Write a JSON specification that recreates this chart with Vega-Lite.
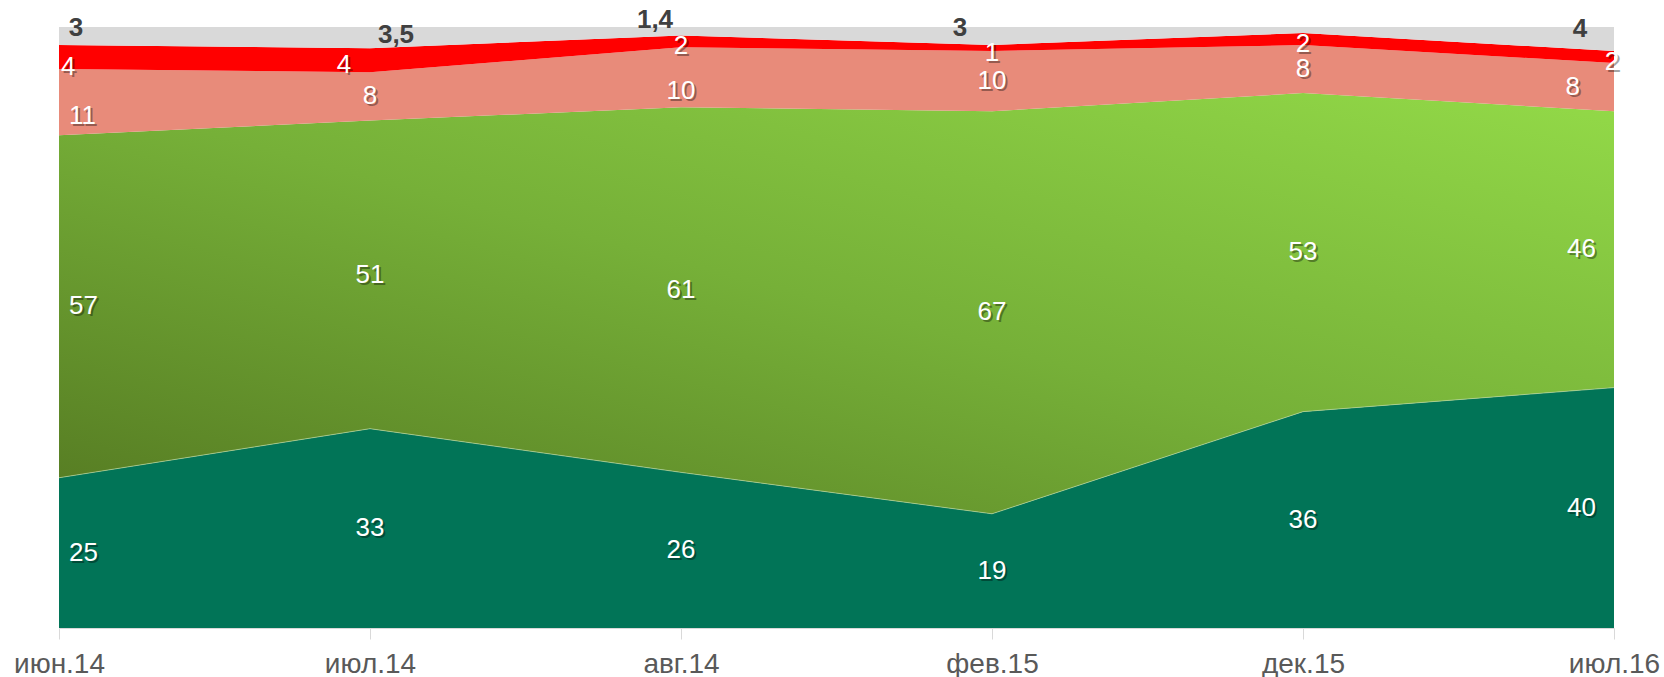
{
  "$schema": "https://vega.github.io/schema/vega-lite/v6.json",
  "width": 1555,
  "height": 601,
  "autosize": {"type": "none"},
  "padding": {"left": 59, "top": 27, "right": 50, "bottom": 49},
  "background": "white",
  "config": {"view": {"stroke": null}},
  "data": {"values": [
    {"d": "июн.14", "s": "a", "o": 1, "v": 25, "t": "25"},
    {"d": "июн.14", "s": "b", "o": 2, "v": 57, "t": "57"},
    {"d": "июн.14", "s": "c", "o": 3, "v": 11, "t": "11"},
    {"d": "июн.14", "s": "d", "o": 4, "v": 4, "t": "4"},
    {"d": "июн.14", "s": "e", "o": 5, "v": 3, "t": "3"},
    {"d": "июл.14", "s": "a", "o": 1, "v": 33, "t": "33"},
    {"d": "июл.14", "s": "b", "o": 2, "v": 51, "t": "51"},
    {"d": "июл.14", "s": "c", "o": 3, "v": 8, "t": "8"},
    {"d": "июл.14", "s": "d", "o": 4, "v": 4, "t": "4"},
    {"d": "июл.14", "s": "e", "o": 5, "v": 3.5, "t": "3,5"},
    {"d": "авг.14", "s": "a", "o": 1, "v": 26, "t": "26"},
    {"d": "авг.14", "s": "b", "o": 2, "v": 61, "t": "61"},
    {"d": "авг.14", "s": "c", "o": 3, "v": 10, "t": "10"},
    {"d": "авг.14", "s": "d", "o": 4, "v": 2, "t": "2"},
    {"d": "авг.14", "s": "e", "o": 5, "v": 1.4, "t": "1,4"},
    {"d": "фев.15", "s": "a", "o": 1, "v": 19, "t": "19"},
    {"d": "фев.15", "s": "b", "o": 2, "v": 67, "t": "67"},
    {"d": "фев.15", "s": "c", "o": 3, "v": 10, "t": "10"},
    {"d": "фев.15", "s": "d", "o": 4, "v": 1, "t": "1"},
    {"d": "фев.15", "s": "e", "o": 5, "v": 3, "t": "3"},
    {"d": "дек.15", "s": "a", "o": 1, "v": 36, "t": "36"},
    {"d": "дек.15", "s": "b", "o": 2, "v": 53, "t": "53"},
    {"d": "дек.15", "s": "c", "o": 3, "v": 8, "t": "8"},
    {"d": "дек.15", "s": "d", "o": 4, "v": 2, "t": "2"},
    {"d": "дек.15", "s": "e", "o": 5, "v": 1, "t": null},
    {"d": "июл.16", "s": "a", "o": 1, "v": 40, "t": "40"},
    {"d": "июл.16", "s": "b", "o": 2, "v": 46, "t": "46"},
    {"d": "июл.16", "s": "c", "o": 3, "v": 8, "t": "8"},
    {"d": "июл.16", "s": "d", "o": 4, "v": 2, "t": "2"},
    {"d": "июл.16", "s": "e", "o": 5, "v": 4, "t": "4"}
  ]},
  "transform": [
    {"stack": "v", "groupby": ["d"], "sort": [{"field": "o", "order": "ascending"}], "as": ["y0", "y1"], "offset": "normalize"},
    {"calculate": "(datum.y0 + datum.y1) / 2", "as": "mid"}
  ],
  "encoding": {
    "x": {
      "field": "d", "type": "ordinal",
      "scale": {"type": "point", "padding": 0, "domain": ["июн.14", "июл.14", "авг.14", "фев.15", "дек.15", "июл.16"]},
      "axis": {
        "title": null, "labelAngle": 0, "labelFont": "Liberation Sans", "labelFontSize": 28,
        "labelColor": "#595959", "tickColor": "#d9d9d9", "tickSize": 11, "domainColor": "#d9d9d9",
        "labelPadding": 11, "labelOverlap": false, "labelBound": false, "grid": false
      }
    }
  },
  "layer": [
    {
      "transform": [{"filter": "datum.s === 'a'"}],
      "mark": {"type": "area", "color": "#017457"},
      "encoding": {"y": {"field": "y1", "type": "quantitative", "scale": {"domain": [0, 1]}, "axis": null}, "y2": {"field": "y0"}}
    },
    {
      "transform": [{"filter": "datum.s === 'b'"}],
      "mark": {"type": "area", "color": {"gradient": "linear", "x1": 0, "y1": 1, "x2": 1, "y2": 0, "stops": [{"offset": 0, "color": "#557a22"}, {"offset": 0.5, "color": "#76b038"}, {"offset": 1, "color": "#93da48"}]}},
      "encoding": {"y": {"field": "y1", "type": "quantitative", "axis": null}, "y2": {"field": "y0"}}
    },
    {
      "transform": [{"filter": "datum.s === 'c'"}],
      "mark": {"type": "area", "color": "#e88b7a"},
      "encoding": {"y": {"field": "y1", "type": "quantitative", "axis": null}, "y2": {"field": "y0"}}
    },
    {
      "transform": [{"filter": "datum.s === 'd'"}],
      "mark": {"type": "area", "color": "#ff0000"},
      "encoding": {"y": {"field": "y1", "type": "quantitative", "axis": null}, "y2": {"field": "y0"}}
    },
    {
      "transform": [{"filter": "datum.s === 'e'"}],
      "mark": {"type": "area", "color": "#d9d9d9"},
      "encoding": {"y": {"field": "y1", "type": "quantitative", "axis": null}, "y2": {"field": "y0"}}
    },
    {
      "transform": [{"filter": "datum.s === 'a'"}],
      "mark": {"type": "line", "color": "#b5d49a", "strokeWidth": 1, "opacity": 0.7},
      "encoding": {"y": {"field": "y1", "type": "quantitative", "axis": null}}
    },
    {
      "transform": [{"filter": "datum.s !== 'e'"}],
      "mark": {
        "type": "text", "baseline": "middle", "font": "Liberation Sans", "fontSize": 26, "color": "#000000", "opacity": 0.35,
        "align": {"expr": "datum.d === 'июн.14' ? 'left' : (datum.d === 'июл.16' ? (datum.s === 'd' ? 'center' : 'right') : 'center')"},
        "dx": {"expr": "2 + (datum.d === 'июн.14' ? (datum.s === 'd' ? 2 : 10) : (datum.d === 'июл.16' ? (datum.s === 'd' ? -2 : (datum.s === 'c' ? -34 : -18)) : (datum.d === 'июл.14' && datum.s === 'd' ? -26 : 0)))"},
        "dy": {"expr": "2 + (datum.s === 'd' ? (datum.d === 'июн.14' ? 10 : 5) : (datum.s === 'c' && datum.d === 'июн.14' ? 14 : (datum.s === 'c' && datum.d === 'авг.14' ? 14 : 0)))"}
      },
      "encoding": {"y": {"field": "mid", "type": "quantitative", "axis": null}, "text": {"field": "t"}}
    },
    {
      "transform": [{"filter": "datum.s !== 'e'"}],
      "mark": {
        "type": "text", "baseline": "middle", "font": "Liberation Sans", "fontSize": 26, "color": "#ffffff",
        "align": {"expr": "datum.d === 'июн.14' ? 'left' : (datum.d === 'июл.16' ? (datum.s === 'd' ? 'center' : 'right') : 'center')"},
        "dx": {"expr": "datum.d === 'июн.14' ? (datum.s === 'd' ? 2 : 10) : (datum.d === 'июл.16' ? (datum.s === 'd' ? -2 : (datum.s === 'c' ? -34 : -18)) : (datum.d === 'июл.14' && datum.s === 'd' ? -26 : 0))"},
        "dy": {"expr": "datum.s === 'd' ? (datum.d === 'июн.14' ? 10 : 5) : (datum.s === 'c' && datum.d === 'июн.14' ? 14 : (datum.s === 'c' && datum.d === 'авг.14' ? 14 : 0))"}
      },
      "encoding": {"y": {"field": "mid", "type": "quantitative", "axis": null}, "text": {"field": "t"}}
    },
    {
      "transform": [{"filter": "datum.s === 'e' && isValid(datum.t)"}],
      "mark": {
        "type": "text", "align": "center", "baseline": "middle", "font": "Liberation Sans", "fontSize": 26, "fontWeight": "bold", "color": "#404040",
        "dx": {"expr": "datum.d === 'июн.14' ? 17 : (datum.d === 'июл.14' ? 26 : (datum.d === 'авг.14' ? -26 : (datum.d === 'фев.15' ? -32 : -34)))"},
        "dy": {"expr": "datum.d === 'июл.14' ? 8 : (datum.d === 'авг.14' ? -7 : (datum.d === 'июл.16' ? 2 : 1))"}
      },
      "encoding": {"y": {"field": "y1", "type": "quantitative", "axis": null}, "text": {"field": "t"}}
    }
  ]
}
